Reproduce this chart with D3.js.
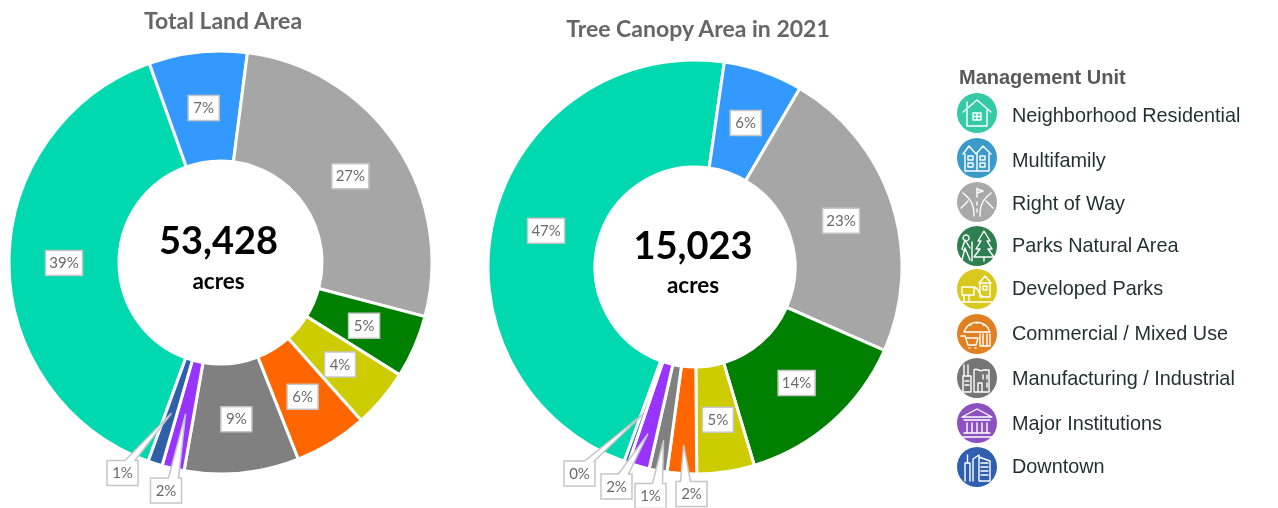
<!DOCTYPE html>
<html>
<head>
<meta charset="utf-8">
<script src="https://d3js.org/d3.v7.min.js"></script>
<style>
  html, body { margin: 0; padding: 0; background: #fff; }
  svg { display: block; filter: blur(0.35px); }
</style>
</head>
<body>
<div id="chart"></div>
<script>
// management units, in drawing order (clockwise)
const units = ["Neighborhood Residential", "Multifamily", "Right of Way", "Parks Natural Area",
  "Developed Parks", "Commercial / Mixed Use", "Manufacturing / Industrial", "Major Institutions", "Downtown"];

const sliceOrder = [0, 1, 2, 3, 4, 5, 6, 7, 8];

// share of area, percent
const landShare = [39.0, 7.5, 27.1, 4.8, 4.5, 5.6, 8.75, 1.7, 1.1];
const canopyShare = [46.8, 6.2, 23.2, 13.8, 4.5, 2.3, 1.4, 1.65, 0.35];

const landLabels = ["39%", "7%", "27%", "5%", "4%", "6%", "9%", "2%", "1%"];
const canopyLabels = ["47%", "6%", "23%", "14%", "5%", "2%", "1%", "2%", "0%"];

const landTotal = "53,428";
const canopyTotal = "15,023";

const sliceColors = ["#00d9b0", "#3399ff", "#a6a6a6", "#008000", "#cccc00", "#ff6600", "#808080", "#9933ff", "#2e5fa8"];
const legendColors = ["#35c9a6", "#3a9bcb", "#a9a9a9", "#2f8050", "#d9c91f", "#e08020", "#757575", "#8e52c0", "#2f5fae"];

const width = 1278, height = 508;

const svg = d3.select("#chart").append("svg")
  .attr("width", width)
  .attr("height", height);

// callouts: box center relative to pie center, tip radius as a fraction, notch offset from box center
const landCallouts = {
  7: { box: [-54.5, 228], tip: 0.735, notch: 7.5 },
  8: { box: [-98, 210.5], tip: 0.75, notch: 7.5 }
};
const canopyCallouts = {
  5: { box: [-3.5, 227], tip: 0.861, notch: -6 },
  6: { box: [-44.5, 229], tip: 0.85, notch: 7 },
  7: { box: [-78.5, 219.5], tip: 0.838, notch: 7 },
  8: { box: [-115.5, 206.5], tip: 0.752, notch: 10 }
};

drawDonut({
  cx: 220.5, cy: 262.5, r: 211.5, inner: 101.5, textDx: -2,
  values: landShare, labels: landLabels, callouts: landCallouts,
  title: "Total Land Area", titleX: 223, titleY: 29,
  total: landTotal, totalY: 254, acresY: 289
});

drawDonut({
  cx: 695, cy: 267, r: 207, inner: 100, textDx: -2,
  values: canopyShare, labels: canopyLabels, callouts: canopyCallouts,
  title: "Tree Canopy Area in 2021", titleX: 698, titleY: 37,
  total: canopyTotal, totalY: 259, acresY: 293
});

function drawDonut(o) {
  const g = svg.append("g").attr("transform", `translate(${o.cx},${o.cy})`);

  const pie = d3.pie()
    .sort(null)
    .value(function(i) { return o.values[i]; })
    .startAngle(200 * Math.PI / 180)
    .endAngle(560 * Math.PI / 180);

  const arc = d3.arc().innerRadius(o.inner).outerRadius(o.r);
  const slices = pie(sliceOrder);

  g.selectAll("path.slice")
    .data(slices).enter()
    .append("path")
      .attr("class", "slice")
      .attr("d", arc)
      .attr("fill", function(d) { return sliceColors[d.data]; })
      .attr("stroke", "#fff")
      .attr("stroke-width", 3);

  const boxH = 25;

  slices.forEach(function(d) {
    const i = d.data;
    const mid = (d.startAngle + d.endAngle) / 2;
    const callout = o.callouts[i];
    // two digit labels get a wider box
    const boxW = o.labels[i].length > 2 ? 37 : 31;
    let x, y, shape;
    if (callout) {
      x = callout.box[0];
      y = callout.box[1];
      const tipR = o.r * callout.tip;
      const tx = Math.sin(mid) * tipR, ty = -Math.cos(mid) * tipR;
      const n = x + callout.notch;
      // box outline with the leader notch going up to the slice
      shape = `M${x - boxW / 2},${y - boxH / 2}H${n - 5}L${tx},${ty}L${n + 5},${y - boxH / 2}`
        + `H${x + boxW / 2}V${y + boxH / 2}H${x - boxW / 2}Z`;
    } else {
      const c = arc.centroid(d);
      x = c[0];
      y = c[1] + 1;
      shape = `M${x - boxW / 2},${y - boxH / 2}H${x + boxW / 2}V${y + boxH / 2}H${x - boxW / 2}Z`;
    }
    g.append("path")
      .attr("d", shape)
      .attr("fill", "#fff")
      .attr("stroke", "#c6c6c6")
      .attr("stroke-width", 1.5);
    g.append("text")
      .attr("x", x)
      .attr("y", y + 5)
      .attr("text-anchor", "middle")
      .style("font-family", "Lato, sans-serif")
      .style("font-size", "15px")
      .style("fill", "#6a6a6a")
      .text(o.labels[i]);
  });

  svg.append("text")
    .attr("x", o.titleX)
    .attr("y", o.titleY)
    .attr("text-anchor", "middle")
    .style("font-family", "Lato, sans-serif")
    .style("font-weight", 700)
    .style("font-size", "23px")
    .style("fill", "#666")
    .text(o.title);

  svg.append("text")
    .attr("x", o.cx + o.textDx)
    .attr("y", o.totalY)
    .attr("text-anchor", "middle")
    .style("font-family", "Lato, sans-serif")
    .style("font-weight", 700)
    .style("font-size", "38px")
    .style("fill", "#000")
    .text(o.total);

  svg.append("text")
    .attr("x", o.cx + o.textDx)
    .attr("y", o.acresY)
    .attr("text-anchor", "middle")
    .style("font-family", "Lato, sans-serif")
    .style("font-weight", 700)
    .style("font-size", "22.5px")
    .style("fill", "#000")
    .text("acres");
}

// legend rows, the source spacing is not quite even
const legendIconY = [113, 158, 202, 246, 289, 334, 378, 423, 467];
const legendTextY = [115, 160, 203, 245, 288, 333, 378, 423, 466];

svg.append("text")
  .attr("x", 959)
  .attr("y", 84)
  .style("font-family", "'Liberation Sans', Arial, sans-serif")
  .style("font-weight", 700)
  .style("font-size", "20px")
  .style("fill", "#595959")
  .text("Management Unit");

// little white line icons inside the legend circles, drawn on a -20..20 box
const iconPaths = [
  "M-14,-1L0,-13L14,-1M-10,-3V13H10V-3M-10,-11V-6M-4,0H4V7H-4ZM0,0V7M-4,3.5H4",
  "M-14,-4L-8,-12L-1,-4L6,-12L14,-4M-12,-4V13H12V-4M0,-4V13M-9,-2H-4V2H-9ZM3,-2H8V2H3ZM-9,5H-4V9H-9ZM3,5H8V9H3Z",
  "M-14,-9C-8,-4 -3,0 -3,14M14,-9C8,-4 3,0 3,14M-16,6L-9,-1M16,6L9,-1M0,-14V-5M0,-13L6,-11L0,-9M0,0V3M0,7V10",
  "M7,-15L1,-5H4L-1,3H3L-3,11H17L11,3H15L10,-5H13ZM7,11V15M-11,-11A3,3 0 1,0 -10.9,-11M-12,-6L-15,3L-12,5M-12,-6L-7,2M-12,2L-15,14M-12,2L-7,14M-5,-4V15",
  "M-15,-2H-3V6H-15ZM-13,6V13M-8,6V13M-4,-2C4,-2 0,8 8,8M2,-6L8,-13L14,-6M3,-6H13V8H3ZM6,-3H10V1H6ZM-15,13H15",
  "M-13,-2C-9,-15 9,-15 13,-2M-13,-2H13M-8,-9H-6M-1,-11H1M6,-9H8M-16,2H-12L-9,11H-1L1,4H-11M-8,14H-7M-2,14H-1M3,0V12H13V0M6,0V12M10,0V12",
  "M-13,-13V-2M-9,-13V-2M-14,-2H-6V14H-14ZM-12,3H-8M-12,7H-8M-3,-8C0,-11 3,-5 6,-8H12V14H-3ZM6,-3V1M10,-3V1M10,5V9M1,5H5V14H1Z",
  "M-15,-6L0,-14L15,-6ZM-13,-3H13M-10,0V9M-5,0V9M0,0V9M5,0V9M10,0V9M-13,10H13M-15,14H15",
  "M-12,14V-4H-7V14M-9.5,-4V-12M-4,14V-8L2,-12V14M2,-10L13,-6V14H2M4,-4H11M4,0H11M4,4H11M4,8H11"
];

const legend = svg.selectAll("g.legend")
  .data(units).enter()
  .append("g")
    .attr("class", "legend");

legend.append("circle")
  .attr("cx", 977)
  .attr("cy", function(d, i) { return legendIconY[i]; })
  .attr("r", 20)
  .attr("fill", function(d, i) { return legendColors[i]; });

legend.append("path")
  .attr("transform", function(d, i) { return `translate(977,${legendIconY[i]})`; })
  .attr("d", function(d, i) { return iconPaths[i]; })
  .attr("fill", "none")
  .attr("stroke", "#fff")
  .attr("stroke-width", 1.4)
  .attr("stroke-linejoin", "round")
  .attr("stroke-linecap", "round");

legend.append("text")
  .attr("x", 1012)
  .attr("y", function(d, i) { return legendTextY[i] + 7; })
  .style("font-family", "'Liberation Sans', Arial, sans-serif")
  .style("font-size", "19.85px")
  .style("fill", "#1f2f33")
  .text(function(d) { return d; });
</script>
</body>
</html>
